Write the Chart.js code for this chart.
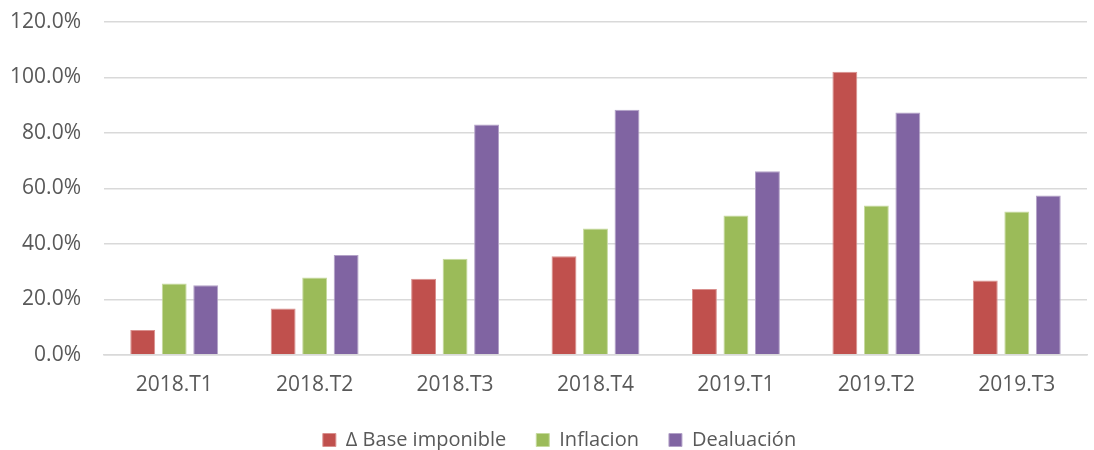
<!DOCTYPE html>
<html>
<head>
<meta charset="utf-8">
<script src="https://cdn.jsdelivr.net/npm/chart.js@4"></script>
<style>
html,body{margin:0;padding:0;background:#fff;}
#wrap{width:1094px;height:450px;position:relative;}
</style>
</head>
<body>
<div id="wrap"><canvas id="c" width="1094" height="450"></canvas></div>
<script>
const categories = ["2018.T1","2018.T2","2018.T3","2018.T4","2019.T1","2019.T2","2019.T3"];
const seriesNames = ["Δ Base imponible","Inflacion","Dealuación"];
const baseImponible = [8.9, 16.7, 27.4, 35.5, 23.7, 102.1, 26.8];
const inflacion = [25.7, 27.9, 34.6, 45.5, 50.2, 53.8, 51.7];
const dealuacion = [25.1, 36.0, 83.0, 88.4, 66.2, 87.4, 57.4];
const yTicks = [0, 20, 40, 60, 80, 100, 120];

const colors = ["#C0504D", "#9BBB59", "#8064A2"];
const borders = ["#D9908E", "#C6DA9E", "#B3A2C8"];
const FONT = "'Open Sans', sans-serif";
const TEXT = "#595959";

const shiftLegend = {
  id: 'shiftLegend',
  afterLayout(chart) {
    if (chart.legend) { chart.legend.left += 16; chart.legend.right += 16; }
  }
};

const seriesData = [baseImponible, inflacion, dealuacion];
new Chart(document.getElementById('c'), {
  type: 'bar',
  data: {
    labels: categories,
    datasets: seriesNames.map((n, i) => ({
      label: n,
      data: seriesData[i],
      backgroundColor: colors[i],
      borderColor: borders[i],
      borderWidth: 1,
      categoryPercentage: 0.673,
      barPercentage: 0.79
    }))
  },
  plugins: [shiftLegend],
  options: {
    responsive: false,
    animation: false,
    layout: { padding: { top: 22, right: 7, left: 0, bottom: -10 } },
    plugins: {
      tooltip: { enabled: false },
      legend: {
        position: 'bottom',
        labels: {
          font: { family: FONT, size: 20 },
          color: TEXT,
          boxWidth: 13,
          boxHeight: 13,
          padding: 30,
          useBorderRadius: false
        }
      }
    },
    scales: {
      x: {
        grid: { display: false, drawTicks: false },
        border: { display: true, color: "#d9d9d9", width: 1.5 },
        afterFit: (s) => { s.height = s.height - 16; },
        ticks: { font: { family: FONT, size: 21 }, color: TEXT, padding: 18 }
      },
      y: {
        min: 0, max: 120,
        afterBuildTicks: (s) => { s.ticks = yTicks.map(v => ({ value: v })); },
        afterFit: (s) => { s.width = 104; s.paddingTop = 0; s.paddingBottom = 0; },
        grid: { color: "#d9d9d9", lineWidth: 1.5, drawTicks: false },
        border: { display: false },
        ticks: {
          font: { family: FONT, size: 21 }, color: TEXT, padding: 23,
          callback: (v) => v.toFixed(1) + "%"
        }
      }
    }
  }
});
</script>
</body>
</html>
